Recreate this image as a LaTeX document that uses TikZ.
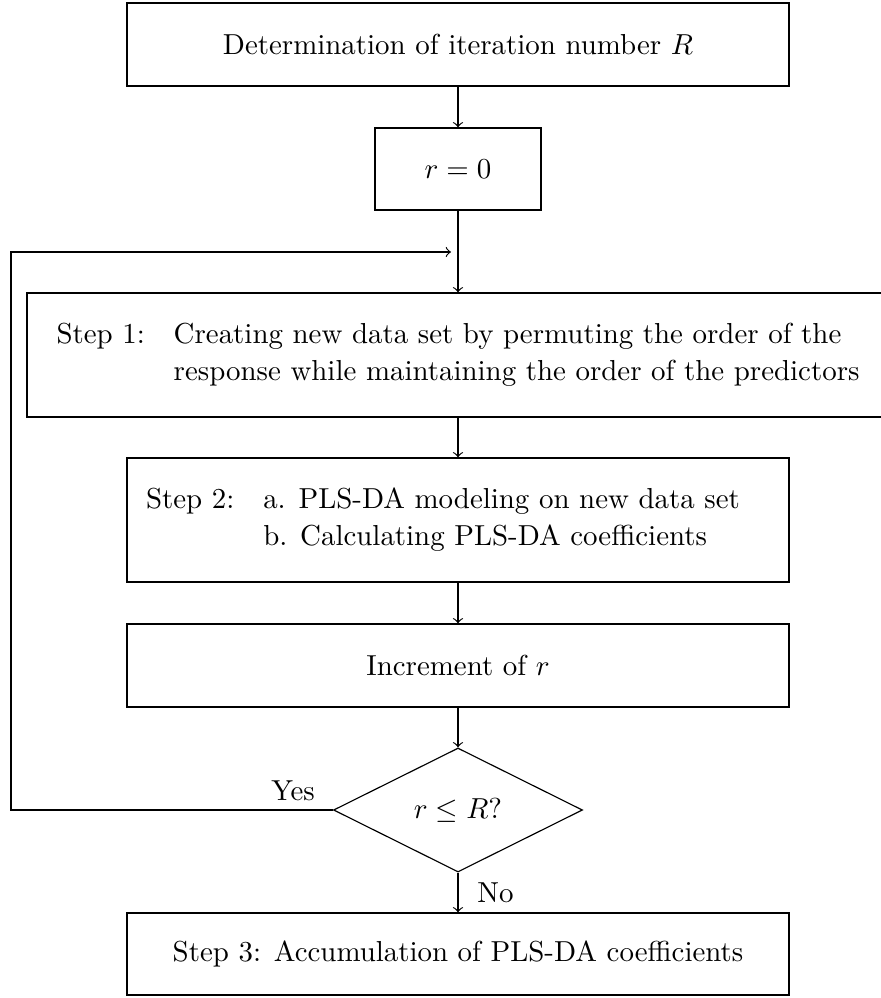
\documentclass[tikz,border=0pt]{standalone}
\usetikzlibrary{shapes.geometric}
% one drawing unit
\newcommand\pxu{0.346pt}
\begin{document}
\begin{tikzpicture}[x=0.346pt, y=-0.346pt,
  box/.style={draw, rectangle, inner sep=0pt,
    minimum width=662*\pxu, minimum height=83*\pxu},
  decision/.style={draw, diamond, inner sep=0pt,
    minimum width=249*\pxu, minimum height=124*\pxu},
  flow/.style={->}]
\useasboundingbox (0,0) rectangle (881,998);

\node[box] (det) at (458,44.5) {Determination of iteration number $R$};
\node[box, minimum width=166*\pxu, minimum height=82*\pxu] (init) at (458,169) {$r=0$};
\node[box, minimum width=862*\pxu, minimum height=124*\pxu] (perm) at (458,355)
  {\begin{tabular}{@{}l@{\hspace{10pt}}l@{}}
    Step 1: & Creating new data set by permuting the order of the\\[0.6pt]
            & response while maintaining the order of the predictors
   \end{tabular}};
\node[box, minimum height=124*\pxu] (model) at (458,520)
  {\begin{tabular}{@{}l@{\hspace{10pt}}l@{\hspace{10.4pt}}}
    Step 2: & a. PLS-DA modeling on new data set\\[0.6pt]
            & b. Calculating PLS-DA coefficients
   \end{tabular}};
\node[box] (incr) at (458,665.5) {Increment of $r$};
\node[decision] (check) at (458,810) {$r\le R$?};
\node[box, minimum height=82*\pxu] (accum) at (458,954) {Step 3: Accumulation of PLS-DA coefficients};

\coordinate (loopleft) at (11,252);
\coordinate (loopin) at (451,252);

\draw[flow] (det) -- (init);
\draw[flow] (init) -- (perm);
\draw[flow] (perm) -- (model);
\draw[flow] (model) -- (incr);
\draw[flow] (incr) -- (check);
\draw[flow] (check) -- node[anchor=west, inner sep=0pt, xshift=6.5pt] {No} (accum);
\draw[flow] (check.west) -- node[pos=0.124, anchor=south, inner sep=3pt] {Yes}
  (check.west -| loopleft) -- (loopleft) -- (loopin);
\end{tikzpicture}
\end{document}
